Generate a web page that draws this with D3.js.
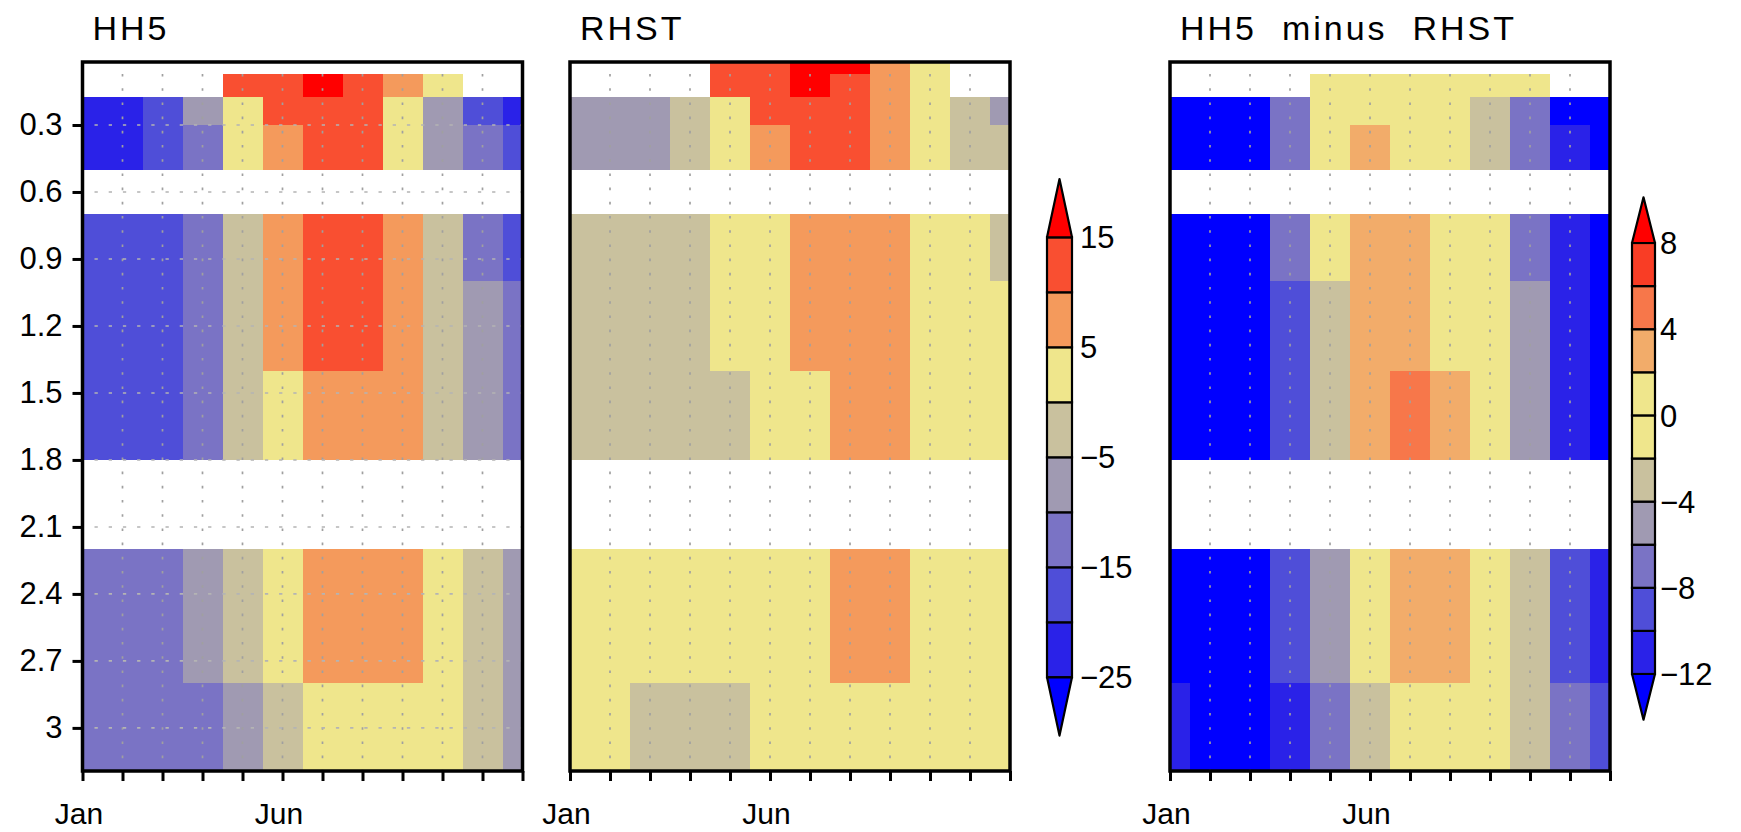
<html>
<head>
  <style type="text/css">
    body { margin: 0; background: #fff; }
    text { font-family: 'Liberation Sans', Arial, sans-serif; fill: #000; }
  </style>
</head>
<body>
  <div id="viz"></div>
  <script src="https://cdnjs.cloudflare.com/ajax/libs/d3/7.8.5/d3.min.js"></script>
  <script>
  // months on the x axis (only Jan and Jun get a label)
  const months = ['Jan','Feb','Mar','Apr','May','Jun','Jul','Aug','Sep','Oct','Nov','Dec'];
  const monthLabels = ['Jan', 'Jun'];

  // layer boundaries in depth (m), 11 layers from top to bottom
  const layerEdges = [0.018, 0.072, 0.175, 0.3, 0.5, 0.7, 1.0, 1.4, 1.8, 2.2, 2.8, 3.193];
  const depthTicks = [0.3, 0.6, 0.9, 1.2, 1.5, 1.8, 2.1, 2.4, 2.7, 3];

  const n = null;

  // one row per layer, one value per month (null = missing)
  const hh5 = [
    [n, n, n, n, n, n, n, n, n, n, n, n],
    [n, n, n, n, 11.8, 13.1, 16.4, 12.6, 7.9, 2.3, n, n],
    [-22.5, -21.2, -17.3, -7.6, 3.1, 12.4, 13.9, 12.8, 2.7, -6.8, -16.9, -22.8],
    [-21.8, -20.6, -16.1, -12.2, 2.2, 8.1, 11.5, 10.9, 1.6, -7.1, -13.4, -18.2],
    [n, n, n, n, n, n, n, n, n, n, n, n],
    [-18.6, -18.1, -15.7, -11.4, -1.9, 7.6, 11.2, 10.7, 6.3, -2.8, -12.1, -16.4],
    [-17.9, -17.2, -15.4, -10.9, -1.6, 8.2, 10.6, 10.3, 6.8, -3.1, -8.7, -11.8],
    [-17.1, -16.8, -15.2, -10.6, -0.9, 4.1, 8.9, 9.2, 6.1, -3.4, -9.2, -12.6],
    [n, n, n, n, n, n, n, n, n, n, n, n],
    [-13.2, -12.8, -11.9, -7.4, -2.1, 3.4, 7.2, 7.8, 6.5, 2.6, -3.3, -6.2],
    [-13.8, -13.5, -12.9, -11.2, -6.9, -1.8, 1.2, 2.4, 2.8, 1.9, -2.6, -6.4]
  ];

  const rhst = [
    [n, n, n, n, 12.3, 13.6, 16.2, 15.8, 8.4, 3.2, n, n],
    [n, n, n, n, 11.6, 12.9, 15.7, 13.8, 8.1, 2.9, n, n],
    [-7.2, -6.8, -5.9, -2.4, 3.6, 11.1, 13.2, 12.7, 8.6, 3.4, -2.1, -5.6],
    [-6.9, -6.5, -5.6, -2.2, 3.1, 8.7, 12.1, 12.3, 8.9, 3.8, -1.7, -3.2],
    [n, n, n, n, n, n, n, n, n, n, n, n],
    [-3.6, -3.4, -2.9, -1.2, 2.1, 4.3, 7.4, 8.2, 6.9, 3.7, 1.1, -0.8],
    [-3.1, -2.8, -2.3, -0.9, 2.4, 4.6, 7.1, 8.0, 7.3, 3.9, 1.8, 0.6],
    [-2.6, -2.4, -1.9, -1.1, -0.3, 2.6, 4.7, 6.8, 6.2, 4.1, 2.3, 1.2],
    [n, n, n, n, n, n, n, n, n, n, n, n],
    [0.9, 0.7, 1.1, 1.6, 2.3, 3.4, 4.5, 6.1, 5.8, 4.2, 2.7, 1.5],
    [0.6, 0.2, -0.4, -0.7, -0.3, 1.4, 2.9, 3.8, 4.2, 3.6, 2.2, 1.1]
  ];

  const diff = [
    [n, n, n, n, n, n, n, n, n, n, n, n],
    [n, n, n, n, 0.2, 0.4, 0.7, -1.2, -0.2, -0.6, n, n],
    [-14.8, -14.2, -12.9, -7.1, 0.4, 1.3, 0.8, 0.1, -2.6, -7.3, -13.1, -15.6],
    [-14.6, -13.9, -12.4, -6.9, 1.1, 2.6, 0.9, -0.4, -2.3, -6.5, -11.2, -14.9],
    [n, n, n, n, n, n, n, n, n, n, n, n],
    [-13.9, -13.4, -12.6, -6.8, 0.6, 3.1, 2.7, 1.4, 0.5, -6.7, -10.8, -13.2],
    [-14.1, -13.6, -12.7, -8.9, -2.7, 3.2, 2.9, 1.2, 0.3, -5.4, -10.6, -12.9],
    [-14.3, -13.8, -12.9, -9.2, -2.9, 3.3, 4.4, 2.8, 0.8, -5.6, -10.9, -13.1],
    [n, n, n, n, n, n, n, n, n, n, n, n],
    [-14.0, -13.7, -12.6, -8.7, -4.6, 1.1, 2.6, 2.9, 0.9, -2.4, -9.1, -11.3],
    [-11.4, -12.6, -12.3, -10.7, -7.2, -2.5, -0.6, 0.4, 0.8, -2.8, -7.4, -9.3]
  ];

  // contour levels and colours
  const levelsAbs = [-25, -20, -15, -10, -5, 0, 5, 10, 15];
  const colorsAbs = ['#0000FF','#2A22E8','#4F4ED8','#7A73C5','#A09AB2','#C9C19E','#EFE68C','#F49A5C','#F94F31','#FF0000'];
  const labelsAbs = [15, 5, -5, -15, -25];

  const levelsDiff = [-12, -10, -8, -6, -4, -2, 0, 2, 4, 6, 8];
  const colorsDiff = ['#0000FF','#2A22E8','#4F4ED8','#7A73C5','#A09AB2','#C9C19E','#EFE68C','#EFE68C','#F2AC6A','#F7774A','#F93D25','#FF0000'];
  const labelsDiff = [8, 4, 0, -4, -8, -12];

  const width = 1741, height = 832;
  const plotTop = 62, plotBottom = 771, pw = 440;
  const ph = plotBottom - plotTop;

  const svg = d3.select('#viz').append('svg')
    .attr('width', width)
    .attr('height', height);

  const xScale = d3.scalePoint().domain(months).range([0, pw]);
  const step = xScale.step();
  const yScale = d3.scaleLinear()
    .domain([layerEdges[0], layerEdges[layerEdges.length - 1]])
    .range([0, ph]);

  const fmt = (d) => d < 0 ? '\u2212' + Math.abs(d) : String(d);

  const scaleAbs = d3.scaleThreshold().domain(levelsAbs).range(colorsAbs);
  const scaleDiff = d3.scaleThreshold().domain(levelsDiff).range(colorsDiff);

  const panels = [
    { title: 'HH5', data: hh5, color: scaleAbs, x: 82.5, yAxis: true },
    { title: 'RHST', data: rhst, color: scaleAbs, x: 570, yAxis: false },
    { title: 'HH5\u00a0\u00a0minus\u00a0\u00a0RHST', data: diff, color: scaleDiff, x: 1170, yAxis: false }
  ];

  panels.forEach((p) => {
    const g = svg.append('g').attr('transform', 'translate(' + p.x + ',' + plotTop + ')');

    // flatten into cells
    const cells = [];
    p.data.forEach((row, i) => {
      row.forEach((v, j) => {
        if (v !== null) cells.push({ layer: i, month: months[j], v: v });
      });
    });

    const x0 = (d) => Math.max(0, xScale(d.month) - step / 2);
    const x1 = (d) => Math.min(pw, xScale(d.month) + step / 2);

    g.selectAll('rect.cell').data(cells)
      .enter().append('rect')
        .attr('class', 'cell')
        .attr('x', x0)
        .attr('width', (d) => x1(d) - x0(d))
        .attr('y', (d) => yScale(layerEdges[d.layer]))
        .attr('height', (d) => yScale(layerEdges[d.layer + 1]) - yScale(layerEdges[d.layer]))
        .attr('fill', (d) => p.color(d.v))
        .attr('shape-rendering', 'crispEdges');

    // dotted grid, vertical on inner months
    g.selectAll('line.vgrid').data(months.slice(1, -1))
      .enter().append('line')
        .attr('x1', (d) => xScale(d)).attr('x2', (d) => xScale(d))
        .attr('y1', 12).attr('y2', ph)
        .attr('stroke', '#a0a0a0')
        .attr('stroke-width', 1.7)
        .attr('stroke-dasharray', '2.6 11.6');

    if (p.yAxis) {
      g.selectAll('line.hgrid').data(depthTicks)
        .enter().append('line')
          .attr('x1', 12).attr('x2', pw)
          .attr('y1', (d) => yScale(d)).attr('y2', (d) => yScale(d))
          .attr('stroke', '#b4b4b4')
          .attr('stroke-width', 1.6)
          .attr('stroke-dasharray', '3.3 10.9');

      const yAxis = g.append('g')
        .call(d3.axisLeft(yScale).tickValues(depthTicks).tickSize(10).tickPadding(10).tickFormat((d) => String(d)));
      yAxis.select('.domain').remove();
      yAxis.selectAll('line').attr('stroke', '#000').attr('stroke-width', 3);
      yAxis.selectAll('text').style('font-size', '31px').attr('font-family', null);
    }

    const xAxis = g.append('g')
      .attr('transform', 'translate(0,' + ph + ')')
      .call(d3.axisBottom(xScale).tickSize(10).tickFormat((d) => monthLabels.includes(d) ? d : ''));
    xAxis.select('.domain').remove();
    xAxis.selectAll('line').attr('stroke', '#000').attr('stroke-width', 3);
    xAxis.selectAll('text')
      .attr('y', 53).attr('dy', 0).attr('dx', -4)
      .style('font-size', '30px').attr('font-family', null);

    // frame
    g.append('rect')
      .attr('width', pw).attr('height', ph)
      .attr('fill', 'none')
      .attr('stroke', '#000')
      .attr('stroke-width', 3.5);

    svg.append('text')
      .attr('x', p.x + 10).attr('y', 40)
      .style('font-size', '34px')
      .style('letter-spacing', '3px')
      .text(p.title);
  });

  // label bars
  const drawLabelBar = (levels, colors, labels, x, w, y0, y1, labelX) => {
    const s = d3.scaleLinear().domain([levels[0], levels[levels.length - 1]]).range([y1, y0]);
    const box = s(levels[0]) - s(levels[1]);
    const tri = box * 1.06;
    const g = svg.append('g');
    const boxes = levels.slice(0, -1).map((l, i) => ({ lo: l, hi: levels[i + 1], c: colors[i + 1] }));
    const yHi = s(levels[levels.length - 1]), yLo = s(levels[0]);

    g.selectAll('rect').data(boxes)
      .enter().append('rect')
        .attr('x', x).attr('width', w)
        .attr('y', (d) => s(d.hi))
        .attr('height', (d) => s(d.lo) - s(d.hi))
        .attr('fill', (d) => d.c)
        .attr('stroke', '#000')
        .attr('stroke-width', 2.2);

    g.append('polygon')
      .attr('points', [[x, yHi], [x + w, yHi], [x + w / 2, yHi - tri]].join(' '))
      .attr('fill', colors[colors.length - 1])
      .attr('stroke', '#000').attr('stroke-width', 2.2).attr('stroke-linejoin', 'round');

    g.append('polygon')
      .attr('points', [[x, yLo], [x + w, yLo], [x + w / 2, yLo + tri]].join(' '))
      .attr('fill', colors[0])
      .attr('stroke', '#000').attr('stroke-width', 2.2).attr('stroke-linejoin', 'round');

    g.selectAll('text').data(labels)
      .enter().append('text')
        .attr('x', labelX)
        .attr('y', (d) => s(d))
        .attr('dy', '0.36em')
        .style('font-size', '31px')
        .text(fmt);
  };

  drawLabelBar(levelsAbs, colorsAbs, labelsAbs, 1047, 25, 237.3, 677.3, 1080);
  drawLabelBar(levelsDiff, colorsDiff, labelsDiff, 1632, 23, 243, 674, 1660);
  </script>
</body>
</html>
